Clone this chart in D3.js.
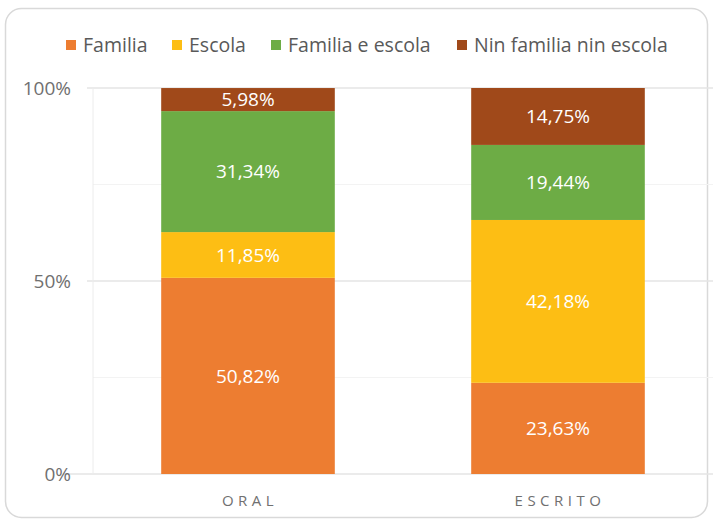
<!DOCTYPE html>
<html>
<head>
<meta charset="utf-8">
<script src="https://cdn.jsdelivr.net/npm/d3@7"></script>
<style>
  body { margin: 0; background: #fff; }
  svg { font-family: "Open Sans", "Noto Sans", sans-serif; }
</style>
</head>
<body>
<div id="chart"></div>
<script>
// categories and series (percent)
const categories = ['ORAL', 'ESCRITO'];
const seriesNames = ['Familia', 'Escola', 'Familia e escola', 'Nin familia nin escola'];
const familia = [50.82, 23.63];
const escola = [11.85, 42.18];
const familiaEscola = [31.34, 19.44];
const nin = [5.98, 14.75];
const yTicks = [0, 50, 100];
const colors = ['#ED7D31', '#FDBE14', '#6DAC45', '#A0491A'];

const W = 714, H = 523;
const margin = { top: 88, right: 1, bottom: 49, left: 93 };
const innerW = W - margin.left - margin.right;
const innerH = H - margin.top - margin.bottom;

const svg = d3.select('#chart').append('svg')
  .attr('width', W)
  .attr('height', H);

// outer frame
svg.append('rect')
  .attr('x', 5.5).attr('y', 8.5)
  .attr('width', 702).attr('height', 509)
  .attr('rx', 16)
  .attr('fill', '#fff')
  .attr('stroke', '#d9d9d9')
  .attr('stroke-width', 1.5);

const g = svg.append('g')
  .attr('transform', `translate(${margin.left},${margin.top})`);

const x = d3.scaleBand().domain(categories).range([0, innerW]).paddingInner(0.44).paddingOuter(0.22);
const y = d3.scaleLinear().domain([0, 100]).range([innerH, 0]);

// faint minor gridlines
g.selectAll('.minor')
  .data([25, 75])
  .enter().append('line')
  .attr('x1', 0).attr('x2', innerW)
  .attr('y1', d => y(d)).attr('y2', d => y(d))
  .attr('stroke', '#f3f3f3');

// major gridlines
g.selectAll('.major')
  .data(yTicks)
  .enter().append('line')
  .attr('x1', d => d === 0 ? -30 : -6).attr('x2', innerW)
  .attr('y1', d => y(d)).attr('y2', d => y(d))
  .attr('stroke', '#e4e4e4')
  .attr('stroke-width', 1.3);

// left vertical line
g.append('line')
  .attr('x1', 0).attr('x2', 0)
  .attr('y1', 0).attr('y2', innerH)
  .attr('stroke', '#ececec');

// stack data
const rows = categories.map((c, i) => ({
  cat: c,
  'Familia': familia[i],
  'Escola': escola[i],
  'Familia e escola': familiaEscola[i],
  'Nin familia nin escola': nin[i]
}));
const stacked = d3.stack().keys(seriesNames)(rows);

const layers = g.selectAll('.layer')
  .data(stacked)
  .enter().append('g')
  .attr('fill', (d, i) => colors[i]);

layers.selectAll('rect')
  .data(d => d)
  .enter().append('rect')
  .attr('x', d => x(d.data.cat))
  .attr('width', x.bandwidth())
  .attr('y', d => y(d[1]))
  .attr('height', d => y(d[0]) - y(d[1]));

// value labels
const fmt = v => v.toFixed(2).replace('.', ',') + '%';
layers.selectAll('text')
  .data(d => d.map(p => Object.assign({ key: d.key }, p)))
  .enter().append('text')
  .attr('x', d => x(d.data.cat) + x.bandwidth() / 2)
  .attr('y', d => (y(d[0]) + y(d[1])) / 2)
  .attr('dy', '0.36em')
  .attr('text-anchor', 'middle')
  .attr('fill', '#fff')
  .attr('font-size', 19)
  .text(d => fmt(d.data[d.key]));

// y axis labels
g.selectAll('.ylab')
  .data(yTicks)
  .enter().append('text')
  .attr('x', -22)
  .attr('y', d => y(d))
  .attr('dy', '0.35em')
  .attr('text-anchor', 'end')
  .attr('fill', '#707070')
  .attr('font-size', 19)
  .text(d => d + '%');

// x axis labels
g.selectAll('.xlab')
  .data(categories)
  .enter().append('text')
  .attr('x', d => x(d) + x.bandwidth() / 2 + 2)
  .attr('y', innerH + 32)
  .attr('text-anchor', 'middle')
  .attr('fill', '#707070')
  .attr('font-size', 15)
  .attr('letter-spacing', 4.5)
  .text(d => d);

// legend
const legendX = [66, 172, 271, 457];
const legend = svg.selectAll('.legend')
  .data(seriesNames)
  .enter().append('g')
  .attr('transform', (d, i) => `translate(${legendX[i]},45)`);
legend.append('rect')
  .attr('x', 0).attr('y', -5)
  .attr('width', 10).attr('height', 10)
  .attr('fill', (d, i) => colors[i]);
legend.append('text')
  .attr('x', 17)
  .attr('dy', '0.35em')
  .attr('fill', '#595959')
  .attr('font-size', 19.5)
  .text(d => d);
</script>
</body>
</html>
